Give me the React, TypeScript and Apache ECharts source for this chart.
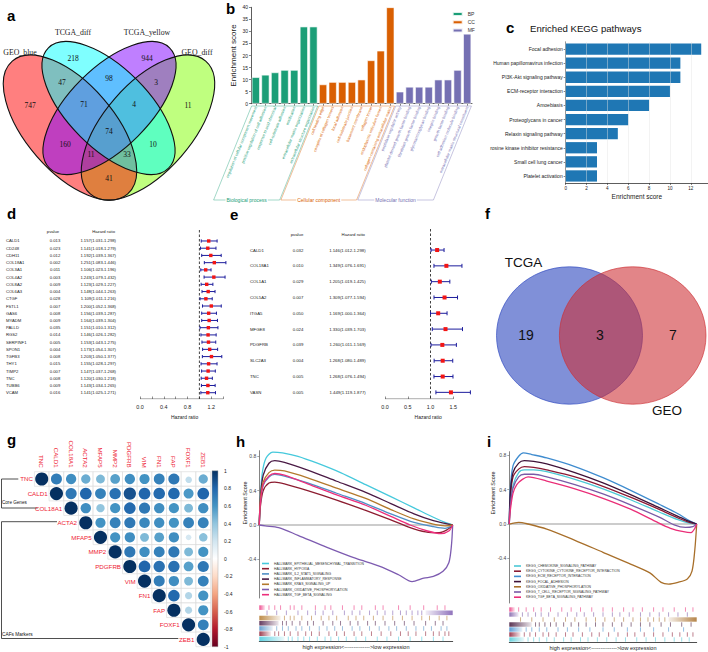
import React, { useEffect, useRef } from 'react';
import * as echarts from 'echarts';

const SANS = '"Liberation Sans", Arial, Helvetica, sans-serif';
const SERIF = '"Liberation Serif", "Times New Roman", serif';

// ---------------- a: four-set Venn ----------------
const vennSetNames = ['GEO_blue', 'TCGA_diff', 'TCGA_yellow', 'GEO_diff'];
const vennRegionCounts = [747, 218, 944, 11, 47, 98, 3, 71, 4, 160, 74, 10, 11, 33, 41];

// ---------------- b: GO enrichment ----------------
const bpTerms = ['regulation of cellular component movement', 'positive regulation of cell adhesion', 'response to acid chemical', 'cell-substrate adhesion', 'ossification', 'extracellular matrix organization', 'extracellular structure organization'];
const bpScores = [11, 12, 13, 14, 14, 32, 32];
const ccTerms = ['cell leading edge', 'complex of collagen trimers', 'focal adhesion', 'cell-substrate junction', 'basement membrane', 'collagen trimer', 'endoplasmic reticulum lumen', 'collagen-containing extracellular matrix'];
const ccScores = [8, 9, 9, 9, 10, 18, 22, 40];
const mfTerms = ['peptidase regulator activity', 'platelet-derived growth factor binding', 'fibroblast growth factor binding', 'glycosaminoglycan binding', 'integrin binding', 'growth factor binding', 'cell adhesion molecule binding', 'extracellular matrix structural constituent'];
const mfScores = [5, 7, 7, 7, 10, 10, 14, 29];
const goGroups = ['BP', 'CC', 'MF'];
const goGroupTitles = ['Biological process', 'Cellular component', 'Molecular function'];

// ---------------- c: KEGG ----------------
const keggTerms = ['Focal adhesion', 'Human papillomavirus infection', 'PI3K-Akt signaling pathway', 'ECM-receptor interaction', 'Amoebiasis', 'Proteoglycans in cancer', 'Relaxin signaling pathway', 'rosine kinase inhibitor resistance', 'Small cell lung cancer', 'Platelet activation'];
const keggScores = [13, 11, 11, 10, 8, 6, 5, 3, 3, 3];

// ---------------- d: forest (22 genes) ----------------
const dGenes = ['CALD1', 'CD248', 'CDH11', 'COL18A1', 'COL3A1', 'COL4A2', 'COL8A2', 'COL6A3', 'CTGF', 'FSTL1', 'GAS6', 'MYADM', 'PALLD', 'RGS2', 'SERPINF1', 'SPON1', 'TGFB3', 'THY1', 'TIMP2', 'TNC', 'TUBB6', 'VCAM'];
const dPvalues = ['0.013', '0.023', '0.012', '0.002', '0.011', '0.003', '0.009', '0.004', '0.028', '0.007', '0.008', '0.009', '0.035', '0.014', '0.005', '0.004', '0.008', '0.015', '0.007', '0.008', '0.009', '0.016'];
const dHR = [1.157, 1.141, 1.192, 1.251, 1.106, 1.243, 1.123, 1.148, 1.109, 1.200, 1.156, 1.164, 1.151, 1.146, 1.153, 1.173, 1.203, 1.155, 1.147, 1.120, 1.143, 1.141];
const dLow = [1.031, 1.018, 1.039, 1.083, 1.023, 1.079, 1.029, 1.044, 1.011, 1.052, 1.039, 1.039, 1.010, 1.026, 1.043, 1.054, 1.050, 1.028, 1.037, 1.030, 1.034, 1.025];
const dHigh = [1.298, 1.279, 1.367, 1.446, 1.196, 1.432, 1.227, 1.263, 1.216, 1.368, 1.287, 1.304, 1.312, 1.282, 1.275, 1.307, 1.377, 1.297, 1.268, 1.218, 1.265, 1.271];
const dTicks = [0, 0.2, 0.4, 0.6, 0.8, 1.0, 1.2, 1.4];
const dTickLabels = [0, 0.4, 0.8, 1.2];

// ---------------- e: forest (10 genes) ----------------
const eGenes = ['CALD1', 'COL18A1', 'COL1A1', 'COL5A2', 'ITGA5', 'MFGE8', 'PDGFRB', 'SLC2A3', 'TNC', 'VASN'];
const ePvalues = ['0.032', '0.010', '0.029', '0.007', '0.050', '0.024', '0.039', '0.004', '0.005', '0.005'];
const eHR = [1.146, 1.349, 1.205, 1.309, 1.169, 1.330, 1.260, 1.268, 1.268, 1.449];
const eLow = [1.012, 1.076, 1.019, 1.077, 1.000, 1.039, 1.011, 1.080, 1.076, 1.119];
const eHigh = [1.298, 1.691, 1.425, 1.594, 1.364, 1.703, 1.569, 1.489, 1.494, 1.877];
const eTicks = [0, 0.5, 1.0, 1.5];

// ---------------- f: two-set Venn ----------------
const fSetNames = ['TCGA', 'GEO'];
const fCounts = [19, 3, 7];

// ---------------- g: correlation matrix ----------------
const gGenes = ['TNC', 'CALD1', 'COL18A1', 'ACTA2', 'MFAP5', 'MMP2', 'PDGFRB', 'VIM', 'FN1', 'FAP', 'FOXF1', 'ZEB1'];
const gUpper = [
  [1, 0.70, 0.62, 0.50, 0.45, 0.55, 0.62, 0.60, 0.68, 0.72, 0.25, 0.50],
  [1, 0.72, 0.80, 0.68, 0.75, 0.88, 0.80, 0.78, 0.78, 0.58, 0.80],
  [1, 0.62, 0.40, 0.60, 0.78, 0.72, 0.62, 0.60, 0.45, 0.62],
  [1, 0.60, 0.68, 0.72, 0.65, 0.62, 0.60, 0.68, 0.68],
  [1, 0.60, 0.62, 0.45, 0.55, 0.62, 0.18, 0.42],
  [1, 0.72, 0.62, 0.68, 0.72, 0.45, 0.60],
  [1, 0.80, 0.75, 0.75, 0.55, 0.72],
  [1, 0.70, 0.62, 0.45, 0.68],
  [1, 0.78, 0.30, 0.60],
  [1, 0.30, 0.60],
  [1, 0.68],
  [1],
];
const gGroups = ['Core Genes', 'CAFs Markers'];

// ---------------- h: GSEA hallmark ----------------
const hNames = ['HALLMARK_EPITHELIAL_MESENCHYMAL_TRANSITION', 'HALLMARK_HYPOXIA', 'HALLMARK_IL2_STAT5_SIGNALING', 'HALLMARK_INFLAMMATORY_RESPONSE', 'HALLMARK_KRAS_SIGNALING_UP', 'HALLMARK_OXIDATIVE_PHOSPHORYLATION', 'HALLMARK_TGF_BETA_SIGNALING'];
const hCurves = [
  [[0, 0], [0.005, 0.3], [0.015, 0.6], [0.035, 0.78], [0.07, 0.85], [0.12, 0.84], [0.2, 0.8], [0.3, 0.72], [0.42, 0.61], [0.55, 0.47], [0.68, 0.33], [0.8, 0.2], [0.9, 0.09], [0.96, 0.03], [1, 0]],
  [[0, 0], [0.005, 0.2], [0.02, 0.4], [0.05, 0.49], [0.08, 0.5], [0.13, 0.48], [0.25, 0.4], [0.4, 0.29], [0.55, 0.17], [0.68, 0.06], [0.78, -0.03], [0.86, -0.08], [0.93, -0.09], [0.975, -0.05], [1, 0]],
  [[0, 0], [0.005, 0.25], [0.02, 0.46], [0.05, 0.56], [0.08, 0.59], [0.13, 0.57], [0.25, 0.49], [0.4, 0.37], [0.55, 0.25], [0.68, 0.13], [0.8, 0.03], [0.9, -0.02], [0.96, -0.04], [1, 0]],
  [[0, 0], [0.005, 0.3], [0.02, 0.58], [0.05, 0.72], [0.08, 0.75], [0.13, 0.73], [0.25, 0.64], [0.4, 0.51], [0.55, 0.38], [0.68, 0.25], [0.8, 0.13], [0.9, 0.05], [0.96, 0.02], [1, 0]],
  [[0, 0], [0.005, 0.28], [0.02, 0.5], [0.05, 0.61], [0.08, 0.64], [0.13, 0.63], [0.25, 0.55], [0.4, 0.43], [0.55, 0.31], [0.68, 0.18], [0.8, 0.07], [0.9, 0.01], [0.96, -0.01], [1, 0]],
  [[0, 0], [0.03, -0.01], [0.1, -0.03], [0.2, -0.12], [0.35, -0.26], [0.5, -0.39], [0.62, -0.48], [0.72, -0.58], [0.79, -0.66], [0.85, -0.62], [0.9, -0.6], [0.95, -0.54], [0.98, -0.44], [0.993, -0.25], [1, 0]],
  [[0, 0], [0.005, 0.24], [0.02, 0.47], [0.05, 0.57], [0.08, 0.6], [0.13, 0.58], [0.25, 0.48], [0.4, 0.35], [0.55, 0.23], [0.68, 0.1], [0.78, 0.0], [0.87, -0.07], [0.94, -0.1], [0.98, -0.07], [1, 0]],
];
const hHits = [
  [0.15, 0.17, 0.2, 0.23, 0.26, 0.3, 0.34, 0.37, 0.41, 0.45, 0.5, 0.55, 0.61, 0.66, 0.72, 0.78, 0.84, 0.9, 0.95],
  [0.08, 0.1, 0.13, 0.16, 0.2, 0.24, 0.27, 0.31, 0.36, 0.4, 0.44, 0.49, 0.53, 0.58, 0.63, 0.68, 0.73, 0.77, 0.81, 0.86, 0.9, 0.93, 0.96, 0.98],
  [0.09, 0.12, 0.15, 0.19, 0.22, 0.26, 0.31, 0.35, 0.39, 0.43, 0.48, 0.52, 0.57, 0.62, 0.67, 0.71, 0.76, 0.81, 0.85, 0.89, 0.94, 0.97],
  [0.12, 0.14, 0.17, 0.21, 0.25, 0.28, 0.33, 0.38, 0.42, 0.47, 0.51, 0.56, 0.6, 0.65, 0.7, 0.75, 0.8, 0.86, 0.91, 0.95],
  [0.13, 0.16, 0.18, 0.22, 0.27, 0.32, 0.36, 0.4, 0.46, 0.5, 0.54, 0.59, 0.64, 0.69, 0.74, 0.79, 0.84, 0.88, 0.93, 0.97],
  [0.04, 0.09, 0.14, 0.2, 0.25, 0.29, 0.33, 0.38, 0.44, 0.48, 0.52, 0.57, 0.61, 0.65, 0.69, 0.73, 0.76, 0.79, 0.82, 0.84],
  [0.05, 0.08, 0.11, 0.16, 0.18, 0.22, 0.29, 0.34, 0.37, 0.43, 0.49, 0.53, 0.6, 0.64, 0.72, 0.78, 0.85, 0.92, 0.96],
];
const hBands = [[0, 0.13], [0, 0.06], [0, 0.07], [0, 0.1], [0, 0.11], [0.86, 1], [0, 0.03]];

// ---------------- i: GSEA KEGG ----------------
const iNames = ['KEGG_CHEMOKINE_SIGNALING_PATHWAY', 'KEGG_CYTOKINE_CYTOKINE_RECEPTOR_INTERACTION', 'KEGG_ECM_RECEPTOR_INTERACTION', 'KEGG_FOCAL_ADHESION', 'KEGG_OXIDATIVE_PHOSPHORYLATION', 'KEGG_T_CELL_RECEPTOR_SIGNALING_PATHWAY', 'KEGG_TGF_BETA_SIGNALING_PATHWAY'];
const iCurves = [
  [[0, 0], [0.005, 0.2], [0.02, 0.45], [0.05, 0.6], [0.08, 0.63], [0.13, 0.63], [0.2, 0.61], [0.35, 0.52], [0.5, 0.41], [0.65, 0.28], [0.8, 0.14], [0.9, 0.05], [0.96, 0.01], [1, 0]],
  [[0, 0], [0.005, 0.3], [0.02, 0.55], [0.05, 0.64], [0.08, 0.67], [0.13, 0.66], [0.2, 0.63], [0.35, 0.55], [0.5, 0.44], [0.65, 0.31], [0.8, 0.17], [0.9, 0.07], [0.96, 0.02], [1, 0]],
  [[0, 0], [0.005, 0.4], [0.02, 0.68], [0.05, 0.79], [0.075, 0.83], [0.12, 0.81], [0.2, 0.77], [0.35, 0.67], [0.5, 0.54], [0.65, 0.39], [0.8, 0.23], [0.9, 0.12], [0.96, 0.04], [1, 0]],
  [[0, 0], [0.005, 0.35], [0.02, 0.6], [0.05, 0.71], [0.08, 0.74], [0.13, 0.73], [0.2, 0.7], [0.35, 0.6], [0.5, 0.48], [0.65, 0.34], [0.8, 0.19], [0.9, 0.09], [0.96, 0.03], [1, 0]],
  [[0, 0], [0.05, 0.02], [0.1, 0.0], [0.2, -0.06], [0.35, -0.19], [0.5, -0.33], [0.65, -0.47], [0.75, -0.57], [0.81, -0.68], [0.85, -0.7], [0.9, -0.68], [0.95, -0.64], [0.975, -0.55], [0.99, -0.3], [1, 0]],
  [[0, 0], [0.005, 0.2], [0.02, 0.42], [0.05, 0.55], [0.08, 0.58], [0.13, 0.58], [0.2, 0.55], [0.35, 0.46], [0.5, 0.35], [0.65, 0.22], [0.8, 0.08], [0.88, -0.01], [0.94, -0.04], [0.98, -0.03], [1, 0]],
  [[0, 0], [0.005, 0.15], [0.02, 0.36], [0.04, 0.46], [0.07, 0.52], [0.1, 0.55], [0.2, 0.5], [0.35, 0.41], [0.5, 0.3], [0.65, 0.17], [0.78, 0.03], [0.86, -0.05], [0.93, -0.09], [0.97, -0.1], [0.99, -0.05], [1, 0]],
];
const iHits = [
  [0.1, 0.13, 0.16, 0.2, 0.24, 0.29, 0.33, 0.38, 0.42, 0.47, 0.52, 0.57, 0.62, 0.68, 0.73, 0.78, 0.83, 0.88, 0.92, 0.96],
  [0.08, 0.11, 0.14, 0.18, 0.21, 0.25, 0.3, 0.34, 0.39, 0.44, 0.48, 0.53, 0.58, 0.63, 0.67, 0.72, 0.77, 0.82, 0.87, 0.91, 0.95, 0.98],
  [0.09, 0.12, 0.16, 0.2, 0.26, 0.31, 0.37, 0.43, 0.5, 0.56, 0.63, 0.7, 0.77, 0.85, 0.93],
  [0.14, 0.16, 0.19, 0.22, 0.25, 0.29, 0.33, 0.37, 0.41, 0.46, 0.5, 0.55, 0.6, 0.65, 0.7, 0.75, 0.81, 0.86, 0.92, 0.97],
  [0.06, 0.12, 0.18, 0.24, 0.3, 0.35, 0.41, 0.46, 0.51, 0.56, 0.61, 0.66, 0.7, 0.74, 0.77, 0.8, 0.83],
  [0.07, 0.1, 0.14, 0.17, 0.21, 0.26, 0.31, 0.36, 0.4, 0.45, 0.5, 0.55, 0.59, 0.64, 0.7, 0.75, 0.8, 0.85, 0.9, 0.95],
  [0.05, 0.09, 0.13, 0.17, 0.22, 0.28, 0.33, 0.38, 0.44, 0.5, 0.55, 0.61, 0.66, 0.71, 0.77, 0.82, 0.88, 0.94, 0.98],
];
const iBands = [[0, 0.08], [0, 0.06], [0, 0.07], [0, 0.12], [0.85, 1], [0, 0.05], [0, 0.03]];
const esTicks = [-0.4, 0, 0.4, 0.8];

// ---------------- styles & layout ----------------
const C_GO = ['#1b9e77', '#d95f02', '#7570b3'];
const hColors = ['#46c9dc', '#8c1c30', '#4f8fc6', '#4a1a45', '#b3792c', '#7d5bb0', '#ec2f7c'];
const iColors = ['#4cc8d6', '#8a1a33', '#3f8ccf', '#3e1238', '#a86f2a', '#7a5aa6', '#ea2e78'];
const RDBU = ['#67001f', '#b2182b', '#d6604d', '#f4a582', '#fddbc7', '#ffffff', '#d1e5f0', '#92c5de', '#4393c3', '#2166ac', '#053061'];

// Venn layouts (pixel frame): cx, cy, rx, ry, clockwise tilt in degrees
const vennEll = [[70, 127.5, 88, 44, 49], [108.5, 108, 85, 40, 45], [109.5, 108, 85, 40, -45], [148, 127.5, 88, 44, -49]];
const vennFill = ['rgba(255,0,0,0.5)', 'rgba(0,255,255,0.5)', 'rgba(128,0,255,0.5)', 'rgba(128,255,0,0.5)'];
const vennDrawOrder = [3, 0, 2, 1];
const vennRegionPos = [[30, 105], [73, 58], [147, 58], [188, 105], [62, 82], [109, 78], [156, 82], [84, 104], [134, 104], [65, 144], [109, 131], [153, 144], [91, 154], [127, 154], [109, 178]];
const vennLabelPos = [[20, 52], [73, 32], [147, 32], [197, 52]];
const fEll = [[569.5, 335.5, 73, 68.7], [632.7, 335.5, 73.3, 68.7]];
const fFill = ['rgba(43,70,190,0.6)', 'rgba(205,45,50,0.58)'];
const fStroke = ['rgba(43,70,190,0.8)', 'rgba(205,45,50,0.8)'];
const fCountPos = [[526, 335], [600, 335], [673, 335]];
const fLabelPos = [[523.5, 262.5], [667, 410]];

const rgba = (hex: string, a: number) => {
  const n = parseInt(hex.slice(1), 16);
  return `rgba(${(n >> 16) & 255},${(n >> 8) & 255},${n & 255},${a})`;
};

function hrText(h: number, l: number, u: number) {
  return `${h.toFixed(3)}(${l.toFixed(3)}-${u.toFixed(3)})`;
}

function buildOption(): any {
  const bCats = [...bpTerms, ...ccTerms, ...mfTerms];
  const groupsLen = [bpTerms.length, ccTerms.length, mfTerms.length];
  const groupScores = [bpScores, ccScores, mfScores];
  const groupStart = [0, groupsLen[0], groupsLen[0] + groupsLen[1]];
  const groupOf = (i: number) => (i < groupStart[1] ? 0 : i < groupStart[2] ? 1 : 2);

  const grids: any[] = [
    { left: 251, top: 7.3, width: 221, height: 96.4 }, // 0 b
    { left: 565.7, top: 42, width: 142.3, height: 141 }, // 1 c
    { left: 0, top: 230, width: 135, height: 169 }, // 2 d table
    { left: 140, top: 230, width: 89.1, height: 169 }, // 3 d forest
    { left: 245, top: 229, width: 125, height: 170 }, // 4 e table
    { left: 385, top: 229, width: 86.45, height: 170 }, // 5 e forest
    { left: 34.4, top: 471.7, width: 176.2, height: 175 }, // 6 g
    { left: 212, top: 470.7, width: 6, height: 176 }, // 7 colorbar
    { left: 259.3, top: 450.7, width: 193.4, height: 147.3 }, // 8 h
    { left: 259.3, top: 605, width: 193.4, height: 36.5 }, // 9 h barcode
    { left: 509.3, top: 451.7, width: 187.4, height: 151.3 }, // 10 i
    { left: 509.3, top: 607, width: 187.4, height: 35 }, // 11 i barcode
    { left: 0, top: 0, width: 708, height: 652 }, // 12 canvas frame
  ].map((g) => ({ ...g, containLabel: false, outerBoundsMode: 'none' }));

  const hidden = (gi: number, min: number, max: number, inverse = false) => ({
    gridIndex: gi, type: 'value', min, max, inverse, show: false,
  });
  const tick = { show: true, length: 2, lineStyle: { color: '#333', width: 0.6 } };
  const axLine = { show: true, onZero: false, lineStyle: { color: '#333', width: 0.8 } };
  const lbl = (fs: number, extra: any = {}) => ({ fontSize: fs, fontFamily: SANS, color: '#222', ...extra });

  const forestX = (gi: number, max: number, ticks: number[], labels: number[]) => ({
    gridIndex: gi, type: 'value', min: 0, max, position: 'bottom',
    name: 'Hazard ratio', nameLocation: 'middle', nameGap: 15, nameTextStyle: lbl(5),
    axisLine: { show: false, onZero: false }, splitLine: { show: false },
    axisTick: { show: true, inside: true, length: 2.5, customValues: ticks, lineStyle: { color: '#444', width: 0.6 } },
    axisLabel: lbl(5.4, { customValues: labels, margin: 5, formatter: (v: number) => v.toFixed(1) }),
  });

  const xAxis: any[] = [
    {
      gridIndex: 0, type: 'category', data: bCats, axisLine: axLine,
      axisTick: { ...tick, alignWithLabel: true },
      axisLabel: { rotate: 68, fontSize: 4, fontFamily: SANS, margin: 3, interval: 0, color: (_v: any, i: number) => C_GO[groupOf(i)] },
    },
    {
      gridIndex: 1, type: 'value', min: 0, max: 13.65, interval: 2, z: 5,
      name: 'Enrichment score', nameLocation: 'middle', nameGap: 10, nameTextStyle: lbl(6.5),
      axisLine: axLine, axisTick: tick, axisLabel: lbl(4.6, { margin: 3, showMaxLabel: false }),
      splitLine: { show: true, lineStyle: { color: 'rgba(228,228,228,0.55)', width: 0.8 } },
    },
    hidden(2, 0, 135),
    forestX(3, 1.5, dTicks, dTickLabels),
    hidden(4, 245, 370),
    forestX(5, 1.9, eTicks, eTicks),
    {
      gridIndex: 6, type: 'category', data: gGenes, position: 'top',
      axisLine: { show: false }, axisTick: { show: false }, splitLine: { show: false },
      axisLabel: { rotate: 90, fontSize: 6.2, fontFamily: SANS, color: '#ee2233', margin: 4, interval: 0 },
    },
    hidden(7, 0, 1),
    hidden(8, 0, 1),
    {
      gridIndex: 9, type: 'value', min: 0, max: 1,
      axisLine: { show: true, onZero: false, lineStyle: { color: '#222', width: 0.8 } }, axisTick: { show: false }, axisLabel: { show: false }, splitLine: { show: false },
      name: 'high expression<-------------->low expression', nameLocation: 'middle', nameGap: 2.5, nameTextStyle: lbl(5.5),
    },
    hidden(10, 0, 1),
    {
      gridIndex: 11, type: 'value', min: 0, max: 1,
      axisLine: { show: true, onZero: false, lineStyle: { color: '#222', width: 0.8 } }, axisTick: { show: false }, axisLabel: { show: false }, splitLine: { show: false },
      name: 'high expression<-------------->low expression', nameLocation: 'middle', nameGap: 2.5, nameTextStyle: lbl(5.5),
    },
    hidden(12, 0, 708),
  ];

  const esAxis = (gi: number, min: number, max: number) => ({
    gridIndex: gi, type: 'value', min, max,
    axisLine: { show: true, onZero: false, lineStyle: { color: '#666', width: 0.8 } },
    axisTick: { show: true, length: 2, customValues: esTicks, lineStyle: { color: '#666', width: 0.6 } },
    axisLabel: lbl(5, { customValues: esTicks, margin: 3, color: '#444', formatter: (v: number) => v.toFixed(1) }),
    splitLine: { show: false },
  });

  const yAxis: any[] = [
    {
      gridIndex: 0, type: 'value', min: 0, max: 40, interval: 5,
      name: 'Enrichment score', nameLocation: 'middle', nameGap: 14, nameTextStyle: lbl(8),
      axisLine: axLine, axisTick: tick, axisLabel: lbl(5, { margin: 3 }), splitLine: { show: false },
    },
    {
      gridIndex: 1, type: 'category', data: keggTerms, inverse: true,
      axisLine: axLine, axisTick: { ...tick, alignWithLabel: true }, axisLabel: lbl(5, { margin: 3, interval: 0 }),
    },
    hidden(2, -1.52, 21.87, true),
    hidden(3, -1.52, 21.87, true),
    hidden(4, -1.33, 9.42, true),
    hidden(5, -1.33, 9.42, true),
    { gridIndex: 6, type: 'category', data: gGenes, inverse: true, show: false },
    {
      gridIndex: 7, type: 'value', min: -1, max: 1, interval: 0.2, position: 'right',
      axisLine: { show: false }, axisTick: { show: false }, splitLine: { show: false },
      axisLabel: lbl(5, { margin: 6, formatter: (v: number) => String(Math.round(v * 10) / 10) }),
    },
    esAxis(8, -0.851, 0.866),
    hidden(9, 0, 7, true),
    esAxis(10, -0.921, 0.843),
    hidden(11, 0, 7, true),
    hidden(12, 0, 652, true),
  ];

  const series: any[] = [];

  // ---- b bars
  goGroups.forEach((name, g) => {
    series.push({
      type: 'bar', name, xAxisIndex: 0, yAxisIndex: 0, stack: 'go', barCategoryGap: '16%',
      data: bCats.map((_, i) => (groupOf(i) === g ? groupScores[g][i - groupStart[g]] : '-')),
      itemStyle: { color: C_GO[g], borderColor: 'rgba(255,255,255,0.85)', borderWidth: 0.7 },
    });
  });

  // ---- c bars
  series.push({
    type: 'bar', name: 'KEGG', xAxisIndex: 1, yAxisIndex: 1, barCategoryGap: '20%',
    data: keggScores, itemStyle: { color: '#1f77b4' },
  });

  // ---- tables & forests
  const tableSeries = (xi: number, genes: string[], pv: string[], hr: number[], lo: number[], hi: number[], cols: number[], hdr: number[], fs: number) => ({
    type: 'custom', xAxisIndex: xi, yAxisIndex: xi,
    data: genes.map((_, i) => [cols[0], i]),
    renderItem: (params: any, api: any) => {
      const i = params.dataIndex;
      const row = api.value(1);
      const t = (x: number, r: number, text: string, align: string) => {
        const p = api.coord([x, r]);
        return { type: 'text', x: p[0], y: p[1], style: { text, fill: '#222', fontSize: fs, fontFamily: SANS, align, verticalAlign: 'middle' } };
      };
      const children: any[] = [
        t(cols[0], row, genes[i], 'left'),
        t(cols[1], row, pv[i], 'center'),
        t(cols[2], row, hrText(hr[i], lo[i], hi[i]), 'right'),
      ];
      if (i === 0) {
        children.push(t(hdr[1], hdr[0], 'pvalue', 'center'));
        children.push(t(hdr[2], hdr[0], 'Hazard ratio', 'right'));
      }
      return { type: 'group', children };
    },
  });
  const forestSeries = (xi: number, hr: number[], lo: number[], hi: number[], cap: number, sq: number) => ({
    type: 'custom', xAxisIndex: xi, yAxisIndex: xi, z: 3,
    data: hr.map((h, i) => [h, i, lo[i], hi[i]]),
    renderItem: (_p: any, api: any) => {
      const row = api.value(1);
      const a = api.coord([api.value(2), row]);
      const b = api.coord([api.value(3), row]);
      const c = api.coord([api.value(0), row]);
      const st = { stroke: '#1c1c9c', lineWidth: 1 };
      return {
        type: 'group', children: [
          { type: 'line', shape: { x1: a[0], y1: a[1], x2: b[0], y2: b[1] }, style: st },
          { type: 'line', shape: { x1: a[0], y1: a[1] - cap, x2: a[0], y2: a[1] + cap }, style: st },
          { type: 'line', shape: { x1: b[0], y1: b[1] - cap, x2: b[0], y2: b[1] + cap }, style: st },
          { type: 'rect', shape: { x: c[0] - sq / 2, y: c[1] - sq / 2, width: sq, height: sq }, style: { fill: '#f21515' } },
        ],
      };
    },
  });
  const refLine = (xi: number, y0: number, y1: number) => ({
    type: 'line', xAxisIndex: xi, yAxisIndex: xi, data: [[1, y0], [1, y1]], showSymbol: false, silent: true, z: 2,
    lineStyle: { color: '#111', width: 0.8, type: [2.5, 2] },
  });
  const baseLine = (xi: number, x1: number, y: number) => ({
    type: 'line', xAxisIndex: xi, yAxisIndex: xi, data: [[0, y], [x1, y]], showSymbol: false, silent: true,
    lineStyle: { color: '#444', width: 0.7 },
  });

  series.push(tableSeries(2, dGenes, dPvalues, dHR, dLow, dHigh, [6, 55, 116], [-1.38, 53, 115], 4.2));
  series.push(refLine(3, -1.52, 21.87));
  series.push(baseLine(3, 1.4, 21.87));
  series.push(forestSeries(3, dHR, dLow, dHigh, 1.6, 3.4));
  series.push(tableSeries(4, eGenes, ePvalues, eHR, eLow, eHigh, [250, 298, 365.7], [-1.01, 297, 365], 4.3));
  series.push(refLine(5, -1.33, 9.42));
  series.push(baseLine(5, 1.5, 9.42));
  series.push(forestSeries(5, eHR, eLow, eHigh, 2, 4));

  // ---- g correlation
  const gData: any[] = [];
  gUpper.forEach((rowVals, r) => rowVals.forEach((v, k) => gData.push([r + k, r, v])));
  const corrSeriesIndex = series.length;
  series.push({
    type: 'custom', xAxisIndex: 6, yAxisIndex: 6, data: gData, encode: { x: 0, y: 1 },
    renderItem: (_p: any, api: any) => {
      const c = api.value(0), r = api.value(1), v = api.value(2);
      const p = api.coord([c, r]);
      const s = api.size([1, 1]);
      const w = s[0], h = s[1];
      const children: any[] = [
        { type: 'rect', shape: { x: p[0] - w / 2, y: p[1] - h / 2, width: w, height: h }, style: { fill: '#fff', stroke: '#d8d8d8', lineWidth: 0.6 } },
        { type: 'circle', shape: { cx: p[0], cy: p[1], r: Math.sqrt(Math.abs(v)) * Math.min(w, h) * 0.45 }, style: { fill: api.visual('color') } },
      ];
      if (c === r) {
        children.push({ type: 'text', x: p[0] - w / 2 - 1.5, y: p[1], style: { text: gGenes[r], fill: '#ee2233', fontSize: 6.2, fontFamily: SANS, align: 'right', verticalAlign: 'middle' } });
      }
      return { type: 'group', children };
    },
  });

  // ---- GSEA
  const gsea = (names: string[], curves: number[][][], colors: string[], hits: number[][], bands: number[][], gi: number, bi: number) => {
    series.push({
      type: 'line', name: 'zero-' + gi, xAxisIndex: gi, yAxisIndex: gi, data: [[0, 0], [1, 0]], showSymbol: false, silent: true, z: 1,
      lineStyle: { color: '#9a9a9a', width: 1.1 },
    });
    names.forEach((n, k) => {
      series.push({
        type: 'line', name: n, xAxisIndex: gi, yAxisIndex: gi, data: curves[k], showSymbol: false, smooth: 0.3,
        lineStyle: { color: colors[k], width: 1.3 }, itemStyle: { color: colors[k] }, z: 3,
      });
    });
    const nRows = names.length;
    series.push({
      type: 'custom', xAxisIndex: bi, yAxisIndex: bi,
      data: bands.map((b, k) => [b[0], nRows - 1 - k, b[1], k]),
      renderItem: (_p: any, api: any) => {
        const row = api.value(1), k = api.value(3);
        const s = api.value(0), e = api.value(2);
        const a = api.coord([s, row]);
        const b = api.coord([e, row + 1]);
        const leftStrong = s === 0;
        const col = colors[k];
        return {
          type: 'rect', shape: { x: a[0], y: a[1] + 0.3, width: b[0] - a[0], height: b[1] - a[1] - 0.6 },
          style: {
            fill: {
              type: 'linear', x: 0, y: 0, x2: 1, y2: 0,
              colorStops: [
                { offset: 0, color: rgba(col, leftStrong ? 0.85 : 0.1) },
                { offset: 1, color: rgba(col, leftStrong ? 0.1 : 0.85) },
              ],
            },
          },
        };
      },
    });
    const tickData: any[] = [];
    hits.forEach((arr, k) => arr.forEach((p) => tickData.push([p, nRows - 1 - k, k])));
    series.push({
      type: 'custom', xAxisIndex: bi, yAxisIndex: bi, data: tickData,
      renderItem: (_p: any, api: any) => {
        const row = api.value(1), k = api.value(2);
        const a = api.coord([api.value(0), row]);
        const b = api.coord([api.value(0), row + 1]);
        return { type: 'line', shape: { x1: a[0], y1: a[1] + 0.3, x2: b[0], y2: b[1] - 0.3 }, style: { stroke: rgba(colors[k], 0.7), lineWidth: 0.8 } };
      },
    });
  };
  gsea(hNames, hCurves, hColors, hHits, hBands, 8, 9);
  gsea(iNames, iCurves, iColors, iHits, iBands, 10, 11);

  // ---- Venn a
  series.push({
    type: 'custom', xAxisIndex: 12, yAxisIndex: 12,
    data: [...vennDrawOrder.map((k) => [k, 0]), ...vennDrawOrder.map((k) => [k, 1])],
    renderItem: (_p: any, api: any) => {
      const k = api.value(0), pass = api.value(1);
      const e = vennEll[k];
      const p = api.coord([e[0], e[1]]);
      const sz = api.size([e[2], e[3]]);
      return {
        type: 'ellipse', x: p[0], y: p[1], rotation: (-e[4] * Math.PI) / 180,
        shape: { cx: 0, cy: 0, rx: sz[0], ry: sz[1] },
        style: pass === 0 ? { fill: vennFill[k], stroke: 'none' } : { fill: 'none', stroke: '#111', lineWidth: 1.1 },
      };
    },
  });
  series.push({
    type: 'custom', xAxisIndex: 12, yAxisIndex: 12,
    data: vennRegionCounts.map((c, i) => [i, c]),
    renderItem: (_p: any, api: any) => {
      const i = api.value(0);
      const p = api.coord(vennRegionPos[i]);
      return { type: 'text', x: p[0], y: p[1], style: { text: String(api.value(1)), fill: '#111', fontSize: 7.5, fontFamily: SERIF, align: 'center', verticalAlign: 'middle' } };
    },
  });
  series.push({
    type: 'custom', xAxisIndex: 12, yAxisIndex: 12,
    data: vennSetNames.map((_, i) => [i, 0]),
    renderItem: (_p: any, api: any) => {
      const i = api.value(0);
      const p = api.coord(vennLabelPos[i]);
      return { type: 'text', x: p[0], y: p[1], style: { text: vennSetNames[i], fill: '#222', fontSize: 7.8, fontFamily: SERIF, align: 'center', verticalAlign: 'middle' } };
    },
  });

  // ---- Venn f
  series.push({
    type: 'custom', xAxisIndex: 12, yAxisIndex: 12,
    data: fSetNames.map((_, i) => [i, 0]),
    renderItem: (_p: any, api: any) => {
      const i = api.value(0);
      const e = fEll[i];
      const p = api.coord([e[0], e[1]]);
      const sz = api.size([e[2], e[3]]);
      const lp = api.coord(fLabelPos[i]);
      return {
        type: 'group', children: [
          { type: 'ellipse', shape: { cx: p[0], cy: p[1], rx: sz[0], ry: sz[1] }, style: { fill: fFill[i], stroke: fStroke[i], lineWidth: 0.8 } },
          { type: 'text', x: lp[0], y: lp[1], z2: 10, style: { text: fSetNames[i], fill: '#111', fontSize: 13.5, fontFamily: SANS, align: 'center', verticalAlign: 'middle' } },
        ],
      };
    },
  });
  series.push({
    type: 'custom', xAxisIndex: 12, yAxisIndex: 12,
    data: fCounts.map((c, i) => [i, c]),
    renderItem: (_p: any, api: any) => {
      const i = api.value(0);
      const p = api.coord(fCountPos[i]);
      return { type: 'text', x: p[0], y: p[1], style: { text: String(api.value(1)), fill: '#111', fontSize: 14, fontFamily: SANS, align: 'center', verticalAlign: 'middle' } };
    },
  });

  // ---- graphics
  const g: any[] = [];
  const letter = (t: string, x: number, y: number) => g.push({ type: 'text', x, y, style: { text: t, fontSize: 15, fontWeight: 'bold', fontFamily: SANS, fill: '#000', align: 'left', verticalAlign: 'top' } });
  letter('a', 7, 8);
  letter('b', 226, 1);
  letter('c', 506, 20);
  letter('d', 7, 205.5);
  letter('e', 230, 207);
  letter('f', 485, 205.5);
  letter('g', 7, 432);
  letter('h', 236, 433.5);
  letter('i', 487, 434);

  g.push({ type: 'text', x: 530, y: 28, style: { text: 'Enriched KEGG pathways', fontSize: 9.6, fontFamily: SANS, fill: '#111', verticalAlign: 'middle' } });

  // GO brackets
  const bLeft = 251, catW = 221 / bCats.length, yTop = 106, yBot = 200;
  const slant = (yBot - yTop) / Math.tan((68 * Math.PI) / 180);
  goGroupTitles.forEach((title, k) => {
    const xl = bLeft + groupStart[k] * catW + 0.6;
    const xr = bLeft + (groupStart[k] + groupsLen[k]) * catW - 0.6;
    g.push({
      type: 'polyline', shape: { points: [[xl, yTop], [xr, yTop], [xr - slant, yBot], [xl - slant, yBot], [xl, yTop]] },
      style: { stroke: rgba(C_GO[k], 0.45), lineWidth: 0.9, fill: 'none' },
    });
    g.push({
      type: 'text', x: (xl + xr) / 2 - slant, y: yBot, z: 10,
      style: { text: title, fontSize: 5, fontFamily: SANS, fill: C_GO[k], align: 'center', verticalAlign: 'middle', backgroundColor: '#fff', padding: [0, 1] },
    });
  });

  // g dendrogram brackets
  g.push({ type: 'polyline', shape: { points: [[18.3, 479], [1.5, 479], [1.5, 508], [37.7, 508]] }, style: { stroke: '#222', lineWidth: 0.8, fill: 'none' } });
  g.push({ type: 'polyline', shape: { points: [[57, 521.7], [1.5, 521.7], [1.5, 638.5], [178.3, 638.5]] }, style: { stroke: '#222', lineWidth: 0.8, fill: 'none' } });
  g.push({ type: 'text', x: 2, y: 505, style: { text: gGroups[0], fontSize: 4.6, fontFamily: SANS, fill: '#111', verticalAlign: 'bottom' } });
  g.push({ type: 'text', x: 2, y: 636.5, style: { text: gGroups[1], fontSize: 4.8, fontFamily: SANS, fill: '#111', verticalAlign: 'bottom' } });
  // colorbar
  g.push({
    type: 'rect', shape: { x: 212, y: 470.7, width: 6, height: 176 },
    style: {
      stroke: '#aaa', lineWidth: 0.5,
      fill: { type: 'linear', x: 0, y: 0, x2: 0, y2: 1, colorStops: RDBU.slice().reverse().map((c, i) => ({ offset: i / (RDBU.length - 1), color: c })) },
    },
  });
  // GSEA y titles
  g.push({ type: 'text', x: 245, y: 503, rotation: Math.PI / 2, style: { text: 'Enrichment Score', fontSize: 5.4, fontFamily: SANS, fill: '#222', align: 'center', verticalAlign: 'middle' } });
  g.push({ type: 'text', x: 492.7, y: 493, rotation: Math.PI / 2, style: { text: 'Enrichment Score', fontSize: 5.4, fontFamily: SANS, fill: '#222', align: 'center', verticalAlign: 'middle' } });

  const legendText = { fontSize: 3.4, fontFamily: SANS, color: '#333' };
  return {
    animation: false,
    backgroundColor: '#fff',
    textStyle: { fontFamily: SANS },
    grid: grids,
    xAxis,
    yAxis,
    visualMap: {
      show: false, type: 'continuous', min: -1, max: 1, dimension: 2, seriesIndex: corrSeriesIndex,
      inRange: { color: RDBU },
    },
    legend: [
      {
        data: goGroups, orient: 'vertical', left: 451.7, top: 11, itemWidth: 10, itemHeight: 4, itemGap: 2.2, padding: 0,
        icon: 'rect', textStyle: { fontSize: 5, fontFamily: SANS, color: '#333' },
      },
      {
        data: hNames, orient: 'vertical', left: 262, top: 562, itemWidth: 7, itemHeight: 1.6, itemGap: 2.2, padding: 0,
        icon: 'rect', textStyle: legendText,
      },
      {
        data: iNames, orient: 'vertical', left: 514, top: 564.5, itemWidth: 7, itemHeight: 1.6, itemGap: 2.2, padding: 0,
        icon: 'rect', textStyle: legendText,
      },
    ],
    series,
    graphic: { elements: g },
  };
}

export default function App() {
  const ref = useRef<HTMLDivElement>(null);
  useEffect(() => {
    const chart = echarts.init(ref.current as HTMLDivElement, null, { renderer: 'svg' });
    chart.setOption(buildOption());
    return () => chart.dispose();
  }, []);
  return <div ref={ref} style={{ position: 'absolute', left: 0, top: 0, width: 708, height: 652 }} />;
}
